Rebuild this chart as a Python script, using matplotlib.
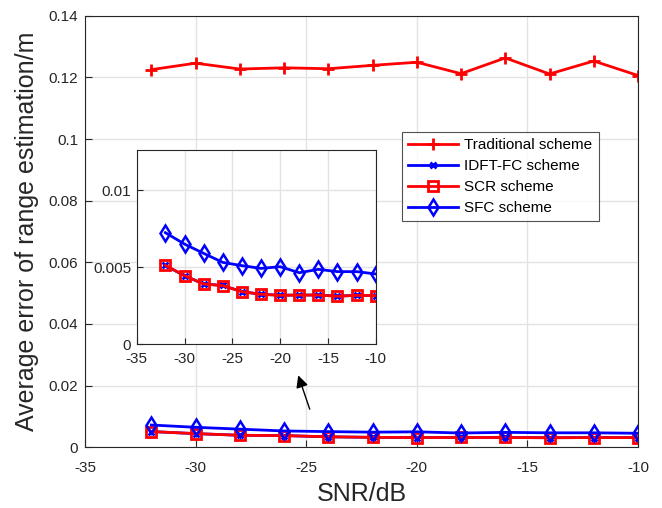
import matplotlib
matplotlib.use("Agg")
import matplotlib.pyplot as plt

plt.rcParams['font.family'] = ['Liberation Sans', 'DejaVu Sans']
plt.rcParams['axes.unicode_minus'] = False

snr = [-32, -30, -28, -26, -24, -22, -20, -18, -16, -14, -12, -10]
traditional = [0.1225, 0.1246, 0.1227, 0.1231, 0.1228, 0.1239, 0.1249, 0.1212, 0.1263, 0.1211, 0.1253, 0.1206]
idft_fc = [0.00510, 0.00443, 0.00390, 0.00380, 0.00340, 0.00323, 0.00317, 0.00318, 0.00318, 0.00311, 0.00316, 0.00314]
scr = [0.00511, 0.00444, 0.00390, 0.00379, 0.00340, 0.00323, 0.00316, 0.00318, 0.00318, 0.00310, 0.00316, 0.00314]
sfc = [0.00723, 0.00649, 0.00589, 0.00530, 0.00509, 0.00491, 0.00502, 0.00463, 0.00485, 0.00470, 0.00470, 0.00455]

labels = ['Traditional scheme', 'IDFT-FC scheme', 'SCR scheme', 'SFC scheme']

RED = (1, 0, 0)
BLUE = (0, 0, 1)
DARK = '#262626'

fig = plt.figure(figsize=(6.62, 5.08), dpi=100)
ax = fig.add_axes([85/662, 1-447.3/508, 553/662, 431.6/508])

def draw(a):
    a.plot(snr, traditional, color=RED, lw=2, marker='+', ms=9, mew=2, label=labels[0])
    a.plot(snr, idft_fc, color=BLUE, lw=2, marker='x', ms=4.5, mew=2, label=labels[1])
    a.plot(snr, scr, color=RED, lw=2, marker='s', ms=6.5, mew=2, mfc='none', label=labels[2])
    a.plot(snr, sfc, color=BLUE, lw=2, marker='d', ms=8, mew=1.8, mfc='none', label=labels[3])

draw(ax)
ax.set_xlim(-35, -10)
ax.set_ylim(0, 0.14)
ax.set_xticks([-35, -30, -25, -20, -15, -10])
ax.set_yticks([0, 0.02, 0.04, 0.06, 0.08, 0.1, 0.12, 0.14])
ax.set_yticklabels(['0', '0.02', '0.04', '0.06', '0.08', '0.1', '0.12', '0.14'])
ax.grid(True, color='#e3e3e3', lw=1)
ax.set_axisbelow(True)
ax.tick_params(labelsize=11, direction='in', length=5, colors=DARK)
ax.tick_params(axis='x', pad=10)
ax.tick_params(axis='y', pad=5)
for s in ax.spines.values():
    s.set_color(DARK)
ax.set_xlabel('SNR/dB', fontsize=18, color=DARK)
ax.set_ylabel('Average error of range estimation/m', fontsize=18, color=DARK)
ax.xaxis.set_label_coords(0.5, -(494-447.3)/431.6)
ax.yaxis.set_label_coords(-(85-27)/553, 0.5)
ax.xaxis.label.set_va('center')
ax.yaxis.label.set_va('center')

leg = ax.legend(loc='upper left', bbox_to_anchor=((401.7-85)/553, (447.3-132.3)/431.6),
                fontsize=11, frameon=True, fancybox=False, edgecolor=DARK,
                borderpad=0.4, labelspacing=0.45, handlelength=3.3, handletextpad=0.4,
                borderaxespad=0)
leg.get_frame().set_linewidth(0.8)

ax.annotate('', xy=(-25.4, 0.0242), xytext=(-24.8, 0.0115),
            arrowprops=dict(arrowstyle='-|>', color='black', lw=1, mutation_scale=18))

inset = fig.add_axes([136.7/662, 1-344/508, 239/662, 194/508])
draw(inset)
inset.set_xlim(-35, -10)
inset.set_ylim(0, 0.0126)
inset.set_xticks([-35, -30, -25, -20, -15, -10])
inset.set_yticks([0, 0.005, 0.01])
inset.set_yticklabels(['0', '0.005', '0.01'])
inset.grid(True, color='#e3e3e3', lw=1)
inset.set_axisbelow(True)
inset.tick_params(labelsize=11, direction='in', length=4, colors=DARK)
inset.tick_params(axis='x', pad=6)
inset.tick_params(axis='y', pad=4)
for s in inset.spines.values():
    s.set_color(DARK)

fig.savefig('out.png', dpi=100)
